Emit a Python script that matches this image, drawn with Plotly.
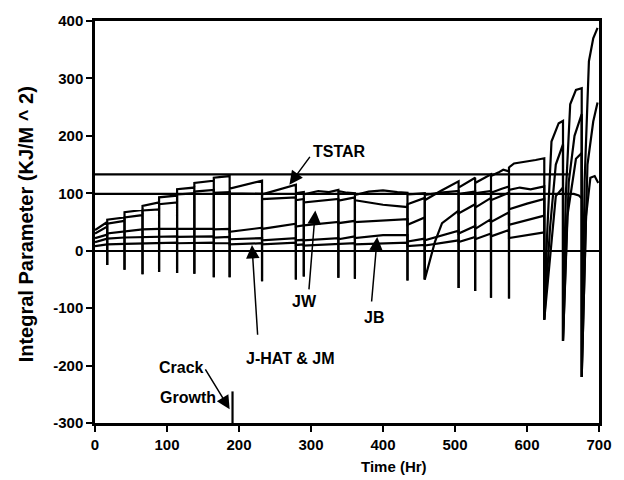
import plotly.graph_objects as go

# ---- readings: (time in hr, integral parameter in kJ/m^2) ----
tstar = [(0, 36), (17, 50), (17, -25), (17, 54), (41, 58), (41, -33), (41, 67), (66, 71), (66, -41), (66, 78),
         (89, 84), (89, -37), (89, 93), (114, 96), (114, -39), (114, 107), (138, 110), (138, -40), (138, 118),
         (165, 122), (165, -46), (165, 127), (187, 130), (187, -46), (187, 108), (232, 122), (232, -53), (232, 98),
         (279, 115), (279, -50), (279, 100), (290, 102), (290, -45), (290, 98), (310, 104), (325, 102), (338, 106),
         (338, -47), (338, 104), (350, 101), (361, 100), (361, -49), (361, 97), (380, 103), (400, 105), (420, 102),
         (434, 101), (434, -52), (434, 98), (458, 100), (458, -50), (458, 97), (480, 101), (505, 104), (505, -65),
         (505, 99), (528, 103), (528, -70), (528, 100), (550, 104), (550, -82), (550, 101), (565, 108), (575, 112),
         (575, -83), (575, 106), (590, 110), (605, 107), (624, 112), (624, -120), (632, 40), (640, 150), (650, 185),
         (650, -157), (658, 120), (666, 200), (676, 238), (676, -220), (684, 150), (692, 225), (698, 258)]

jw = [(0, 30), (17, 42), (17, -25), (17, 47), (41, 52), (41, -33), (41, 58), (66, 62), (66, -41), (66, 70),
      (89, 72), (89, -37), (89, 81), (114, 84), (114, -39), (114, 98), (138, 100), (138, -40), (138, 103),
      (165, 106), (165, -46), (165, 101), (187, 102), (187, -46), (187, 100), (232, 99), (232, -53), (232, 90),
      (279, 93), (279, -50), (279, 88), (290, 90), (290, -45), (290, 84), (338, 90), (338, -47), (338, 87),
      (361, 93), (361, -49), (361, 88), (400, 80), (434, 76), (434, -52), (434, 81), (458, 92), (458, -50),
      (458, 88), (480, 104), (505, 121), (505, -65), (505, 110), (528, 127), (528, -70), (528, 118), (550, 133),
      (550, -82), (550, 130), (560, 136), (567, 141), (575, 138), (575, -83), (575, 145), (582, 152), (600, 155),
      (612, 158), (624, 161), (624, -120), (628, 30), (634, 190), (644, 222), (650, 226), (650, -157), (654, 100),
      (660, 255), (668, 280), (676, 283), (676, -220), (680, 120), (686, 330), (692, 370), (698, 388)]

j_mid = [(0, 22), (17, 28), (17, 30), (41, 33), (41, 34), (66, 36), (66, 37), (89, 38), (114, 38), (138, 39),
         (138, 38), (165, 38), (165, 37), (187, 38), (187, 33), (232, 40), (232, 38), (279, 47), (279, 42),
         (290, 44), (338, 50), (338, 48), (361, 52), (361, 50), (434, 55), (434, 45), (458, 58), (458, -50),
         (472, 15), (482, 48), (505, 70), (505, 65), (528, 81), (528, 75), (550, 92), (550, 88), (575, 101),
         (575, 72), (600, 82), (624, 90), (624, -120), (630, -40), (640, 95), (650, 110), (650, -157), (656, 60),
         (668, 160), (676, 170), (676, -220), (682, 60), (688, 127), (694, 130), (699, 118)]

jb = [(0, 15), (17, 20), (17, 21), (41, 23), (66, 24), (89, 25), (89, 24), (114, 25), (114, 24), (138, 25),
      (138, 24), (165, 25), (165, 23), (187, 24), (187, 20), (232, 22), (232, 18), (279, 22), (279, 18), (290, 19),
      (290, 18), (338, 22), (338, 20), (361, 25), (361, 22), (400, 27), (434, 27), (434, 16), (458, 21), (458, 18),
      (505, 35), (505, 30), (528, 43), (528, 38), (550, 55), (550, 50), (575, 67), (575, 45), (600, 53), (624, 61)]

jhat_jm = [(0, 8), (17, 10), (17, 11), (41, 12), (66, 13), (89, 13), (114, 14), (114, 13), (138, 14), (138, 13),
           (165, 14), (165, 13), (187, 13), (187, 11), (232, 13), (232, 11), (279, 14), (279, 10), (290, 11),
           (290, 9), (338, 12), (338, 11), (361, 13), (361, 11), (434, 14), (434, 8), (458, 10), (458, 9),
           (505, 18), (505, 15), (528, 24), (528, 20), (550, 30), (550, 25), (575, 36), (575, 22), (624, 32)]

ref_upper = [(0, 133), (658, 133)]
ref_lower = [(0, 99), (665, 99), (672, 96), (677, 90)]
crack_mark = [(191, -300), (191, -245)]

x_ticks = [0, 100, 200, 300, 400, 500, 600, 700]
x_tick_labels = ["0", "100", "200", "300", "400", "500", "600", "700"]
y_ticks = [-300, -200, -100, 0, 100, 200, 300, 400]
y_tick_labels = ["-300", "-200", "-100", "0", "100", "200", "300", "400"]

FONT = "Liberation Sans, Arial, sans-serif"

fig = go.Figure()
for name, pts in [("TSTAR", tstar), ("JW", jw), ("J mid", j_mid), ("JB", jb), ("J-HAT & JM", jhat_jm),
                  ("upper ref", ref_upper), ("lower ref", ref_lower), ("crack growth", crack_mark)]:
    xs, ys = zip(*pts)
    fig.add_trace(go.Scatter(x=list(xs), y=list(ys), mode="lines", name=name,
                             line=dict(color="black", width=2.2), showlegend=False))

axis_common = dict(showgrid=False, showline=True, linecolor="black", linewidth=2.5, mirror=True,
                   ticks="outside", ticklen=6, tickwidth=2, tickcolor="black",
                   tickfont=dict(family=FONT, size=15, color="black", weight="bold"))

fig.update_xaxes(range=[0, 700], tickvals=x_ticks, ticktext=x_tick_labels, zeroline=False, **axis_common)
fig.update_yaxes(range=[-300, 400], tickvals=y_ticks, ticktext=y_tick_labels, zeroline=True,
                 zerolinecolor="black", zerolinewidth=2, **axis_common)

lab = dict(family=FONT, size=16, color="black", weight="bold")
annotations = [
    # axis titles
    dict(text="Time (Hr)", xref="x", yref="paper", x=415, y=-0.108, xanchor="center", yanchor="middle",
         showarrow=False, font=dict(family=FONT, size=15, color="black", weight="bold")),
    dict(text="Integral Parameter (KJ/M ^ 2)", xref="paper", yref="paper", x=-0.137, y=0.494,
         xanchor="center", yanchor="middle", textangle=-90, showarrow=False,
         font=dict(family=FONT, size=20, color="black", weight="bold")),
    # curve labels
    dict(text="TSTAR", x=340, y=172, showarrow=False, font=lab),
    dict(text="JW", x=291, y=-88, showarrow=False, font=lab),
    dict(text="JB", x=388, y=-117, showarrow=False, font=lab),
    dict(text="J-HAT & JM", x=272, y=-187, showarrow=False, font=lab),
    dict(text="Crack", x=120, y=-203, showarrow=False, font=lab),
    dict(text="Growth", x=129, y=-256, showarrow=False, font=lab),
]
arrows = [((300, 166), (270, 115)), ((297, -70), (306, 70)), ((384, -91), (392, 24)),
          ((226, -149), (218, 10)), ((152, -204), (187, -276))]
for (tx, ty), (hx, hy) in arrows:
    annotations.append(dict(text="", x=hx, y=hy, ax=tx, ay=ty, xref="x", yref="y", axref="x", ayref="y",
                            showarrow=True, arrowhead=2, arrowsize=1.8, arrowwidth=1.5, arrowcolor="black",
                            standoff=0, startstandoff=0))

fig.update_layout(width=624, height=480, margin=dict(l=95, r=16, t=16, b=57),
                  plot_bgcolor="white", paper_bgcolor="white", annotations=annotations)

fig.write_html("out.html")
